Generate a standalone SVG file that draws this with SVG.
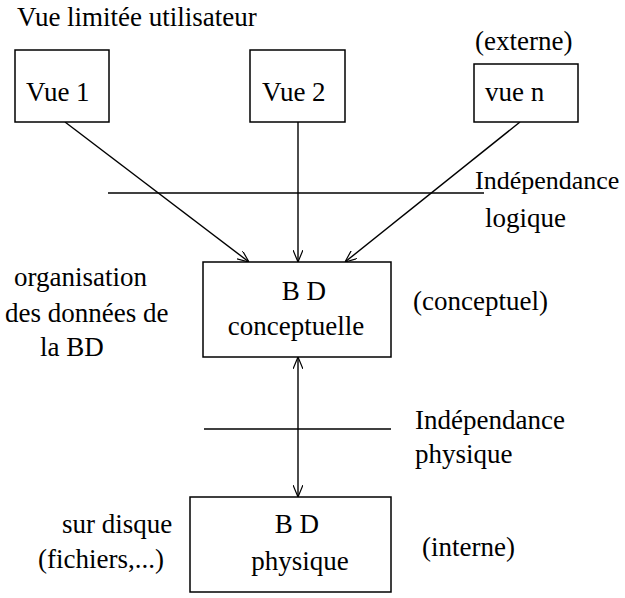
<svg xmlns="http://www.w3.org/2000/svg" width="625" height="598" viewBox="0 0 625 598">
<defs>
<style>
text{font-family:"Liberation Serif","Times New Roman",serif;font-size:27px;fill:#000}
.box{fill:#fff;stroke:#000;stroke-width:1.5}
.ln{stroke:#000;stroke-width:1.4;fill:none}
.mid{text-anchor:middle}
</style>
<marker id="ah" viewBox="0 0 12 10" refX="12" refY="5" markerWidth="12" markerHeight="10" markerUnits="userSpaceOnUse" orient="auto-start-reverse">
<path d="M0,0 L12,5 L0,10" fill="none" stroke="#000" stroke-width="1.2"/>
</marker>
</defs>
<rect width="625" height="598" fill="#fff"/>
<g id="connectors">
<line class="ln" x1="65" y1="122" x2="249" y2="262" marker-end="url(#ah)"/>
<line class="ln" x1="298" y1="122" x2="298" y2="262" marker-end="url(#ah)"/>
<line class="ln" x1="520" y1="122" x2="345" y2="262" marker-end="url(#ah)"/>
<line class="ln" x1="298" y1="357" x2="298" y2="497" marker-start="url(#ah)" marker-end="url(#ah)"/>
<line class="ln" x1="108" y1="193" x2="484" y2="193"/>
<line class="ln" x1="204" y1="429" x2="391" y2="429"/>
</g>
<g id="vue1"><rect class="box" x="15" y="50" width="94" height="72"/><text x="26" y="101">Vue 1</text></g>
<g id="vue2"><rect class="box" x="250" y="50" width="95" height="72"/><text x="262" y="101">Vue 2</text></g>
<g id="vuen"><rect class="box" x="474" y="64" width="104" height="58"/><text x="485" y="101">vue n</text></g>
<g id="bdconc"><rect class="box" x="203" y="262" width="188" height="95"/><text class="mid" x="304" y="300">B D</text><text class="mid" x="296" y="335">conceptuelle</text></g>
<g id="bdphys"><rect class="box" x="190" y="497" width="201" height="95"/><text class="mid" x="297" y="533">B D</text><text class="mid" x="300" y="570">physique</text></g>
<g id="labels">
<text x="17" y="26">Vue limitée utilisateur</text>
<text x="475" y="50">(externe)</text>
<text x="475" y="189" style="font-size:26px">Indépendance</text>
<text x="485" y="227">logique</text>
<text x="14" y="286">organisation</text>
<text x="5" y="322">des données de</text>
<text x="40" y="356">la BD</text>
<text x="413" y="310">(conceptuel)</text>
<text x="415" y="429">Indépendance</text>
<text x="415" y="463">physique</text>
<text x="62" y="533">sur disque</text>
<text x="38" y="568">(fichiers,...)</text>
<text x="422" y="556">(interne)</text>
</g>
</svg>
